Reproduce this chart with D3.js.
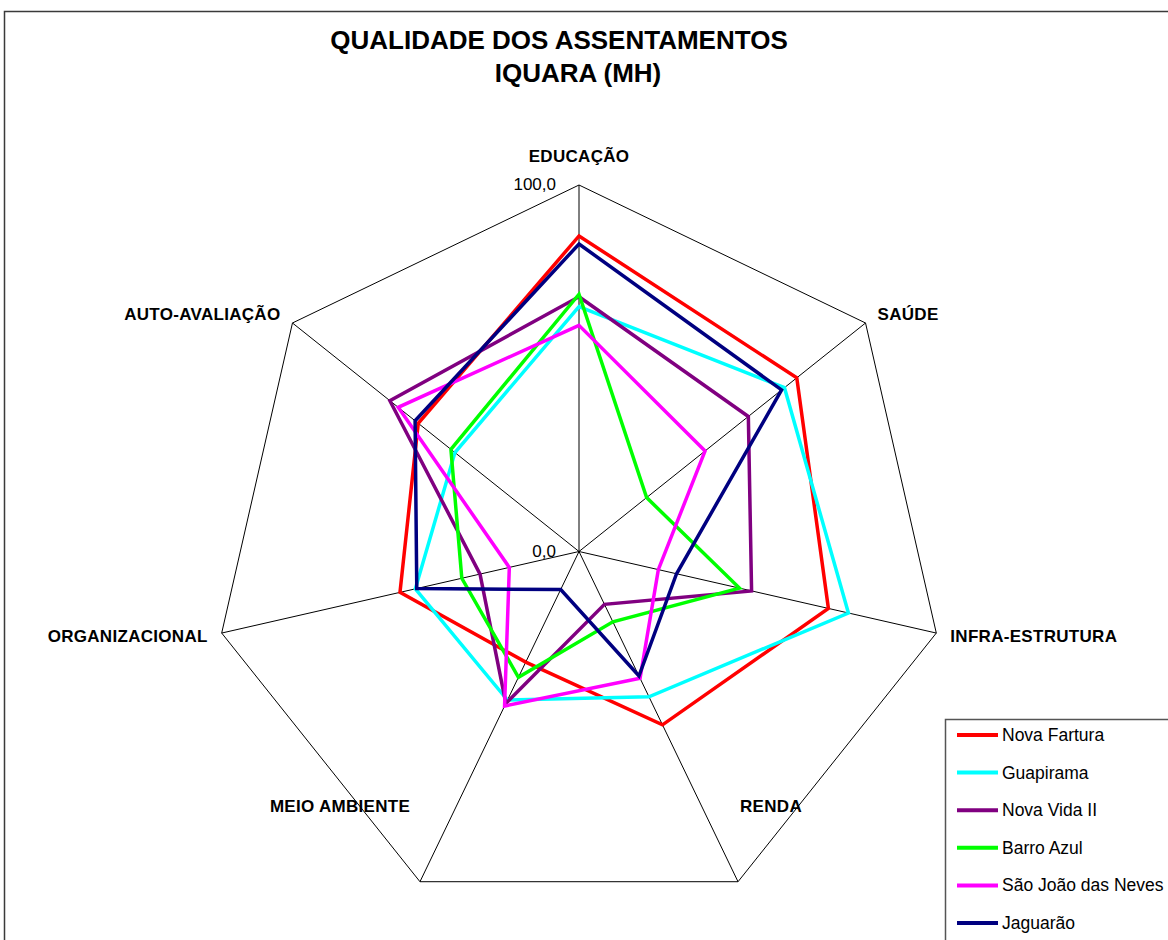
<!DOCTYPE html>
<html>
<head>
<meta charset="utf-8" />
<script src="https://cdn.jsdelivr.net/npm/d3@7"></script>
<style>
  body { margin: 0; background: #fff; }
  svg { font-family: "Liberation Sans", Arial, sans-serif; }
  .spoke, .ring { fill: none; stroke: #000; stroke-width: 1px; }
  .serie { fill: none; stroke-width: 3.5px; stroke-linejoin: miter; }
  .axis-label { font-weight: bold; font-size: 17px; letter-spacing: 0.3px; }
  .tick-label { font-size: 17px; }
  .legend text { font-size: 17.5px; }
</style>
</head>
<body>
<svg width="1168" height="940"></svg>
<script>

// eixos (sentido horario a partir do topo)
var categories = ["EDUCAÇÃO", "SAÚDE", "INFRA-ESTRUTURA", "RENDA", "MEIO AMBIENTE", "ORGANIZACIONAL", "AUTO-AVALIAÇÃO"];

var seriesNames = ["Nova Fartura", "Guapirama", "Nova Vida II", "Barro Azul", "São João das Neves", "Jaguarão"];
var seriesColors = ["#ff0000", "#00ffff", "#800080", "#00ff00", "#ff00ff", "#000080"];

// valores (0 a 100)
var novaFartura = [86.1, 76.0, 69.8, 52.5, 33.5, 50.1, 56.1];
var guapirama   = [66.8, 71.7, 75.4, 44.0, 45.0, 45.8, 43.3];
var novaVida    = [69.5, 59.1, 48.3, 16.0, 46.0, 27.7, 66.0];
var barroAzul   = [70.2, 23.6, 44.9, 21.3, 38.1, 32.8, 44.7];
var saoJoao     = [61.7, 44.0, 22.2, 38.4, 46.8, 19.5, 63.1];
var jaguarao    = [83.9, 70.7, 27.3, 37.7, 11.5, 45.4, 57.2];

var tickValues = [0, 100];
var tickLabels = ["0,0", "100,0"];

var svg = d3.select("svg"),
    cx = 579, cy = 551.5, radius = 366.5;

var allSeries = [novaFartura, guapirama, novaVida, barroAzul, saoJoao, jaguarao];

// moldura do grafico (corta na borda direita/inferior)
svg.append("rect")
  .attr("x", 4.5).attr("y", 11.5)
  .attr("width", 1200).attr("height", 1000)
  .attr("fill", "#fff")
  .attr("stroke", "#3a3a3a")
  .attr("stroke-width", 1.5);

// titulo
svg.append("text")
  .attr("x", 559).attr("y", 49)
  .attr("text-anchor", "middle")
  .style("font-weight", "bold").style("font-size", "26px")
  .text("QUALIDADE DOS ASSENTAMENTOS");
svg.append("text")
  .attr("x", 578).attr("y", 82)
  .attr("text-anchor", "middle")
  .style("font-weight", "bold").style("font-size", "26px")
  .text("IQUARA (MH)");

var r = d3.scaleLinear().domain([0, 100]).range([0, radius]);
var angle = d3.scalePoint().domain(d3.range(categories.length))
  .range([0, 2 * Math.PI * (categories.length - 1) / categories.length]);

var plot = svg.append("g").attr("transform", "translate(" + cx + "," + cy + ")");

function point(i, v) {
  var a = angle(i);
  return [r(v) * Math.sin(a), -r(v) * Math.cos(a)];
}

// raios
plot.selectAll(".spoke")
  .data(categories)
  .enter().append("line")
  .attr("class", "spoke")
  .attr("x1", 0).attr("y1", 0)
  .attr("x2", function(d, i) { return point(i, 100)[0]; })
  .attr("y2", function(d, i) { return point(i, 100)[1]; });

// anel externo
var ring = d3.lineRadial()
  .angle(function(d, i) { return angle(i); })
  .radius(function(d) { return r(d); })
  .curve(d3.curveLinearClosed);

plot.append("path")
  .attr("class", "ring")
  .attr("d", ring(categories.map(function() { return 100; })));

// rotulos da escala
plot.selectAll(".tick-label")
  .data(tickValues)
  .enter().append("text")
  .attr("class", "tick-label")
  .attr("x", -23)
  .attr("y", function(d) { return -r(d) + 5; })
  .attr("text-anchor", "end")
  .text(function(d, i) { return tickLabels[i]; });

// deslocamento dos rotulos dos eixos
var labelOffsets = [
  {dx: 0, dy: -23, anchor: "middle"},
  {dx: 12, dy: -3, anchor: "start"},
  {dx: 14, dy: 9, anchor: "start"},
  {dx: 33, dy: -70, anchor: "middle"},
  {dx: -80, dy: -70, anchor: "middle"},
  {dx: -14, dy: 9, anchor: "end"},
  {dx: -12, dy: -3, anchor: "end"}
];

plot.selectAll(".axis-label")
  .data(categories)
  .enter().append("text")
  .attr("class", "axis-label")
  .attr("x", function(d, i) { return point(i, 100)[0] + labelOffsets[i].dx; })
  .attr("y", function(d, i) { return point(i, 100)[1] + labelOffsets[i].dy; })
  .attr("text-anchor", function(d, i) { return labelOffsets[i].anchor; })
  .text(function(d) { return d; });

// series
plot.selectAll(".serie")
  .data(allSeries)
  .enter().append("path")
  .attr("class", "serie")
  .attr("d", function(d) { return ring(d); })
  .style("stroke", function(d, i) { return seriesColors[i]; });

// legenda
var legend = svg.append("g").attr("class", "legend");

legend.append("rect")
  .attr("x", 945.5).attr("y", 719.5)
  .attr("width", 300).attr("height", 300)
  .attr("fill", "#fff")
  .attr("stroke", "#555")
  .attr("stroke-width", 1.5);

var rowY = d3.scalePoint().domain(seriesNames).range([735, 923]);

var items = legend.selectAll(".item")
  .data(seriesNames)
  .enter().append("g")
  .attr("class", "item");

items.append("line")
  .attr("x1", 957).attr("x2", 998)
  .attr("y1", function(d) { return rowY(d); })
  .attr("y2", function(d) { return rowY(d); })
  .attr("stroke-width", 4)
  .attr("stroke", function(d, i) { return seriesColors[i]; });

items.append("text")
  .attr("x", 1002)
  .attr("y", function(d) { return rowY(d) + 6; })
  .text(function(d) { return d; });

</script>
</body>
</html>
